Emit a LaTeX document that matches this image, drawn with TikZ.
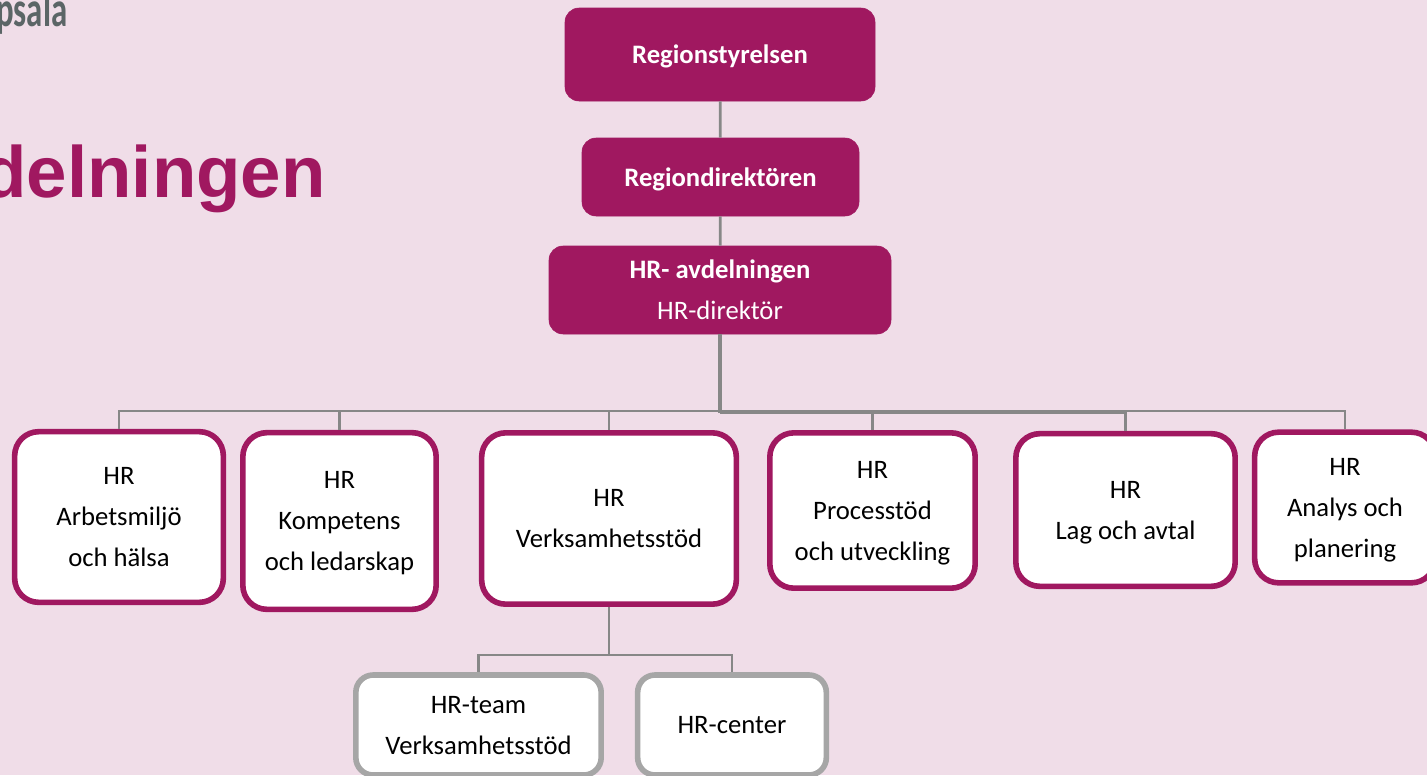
\documentclass[tikz,border=0pt]{standalone}
\usepackage{fontspec}
\setmainfont{Carlito}
\newfontfamily\rubrik{Liberation Sans}
\definecolor{bakgrund}{HTML}{F0DDE8}
\definecolor{lila}{HTML}{A01860}
\definecolor{linje}{HTML}{878787}
\definecolor{ram}{HTML}{A6A6A6}
\definecolor{logga}{HTML}{5B6566}
\tikzset{
  ledning/.style={draw=lila,fill=lila,rounded corners=10.5pt,text=white,inner sep=0pt,text depth=0pt,font=\fontsize{20}{30.75}\selectfont},
  enhet/.style={draw=lila,line width=4.2pt,fill=white,rounded corners=18pt,inner sep=0pt,text depth=0pt,align=center,text=black,font=\fontsize{20}{30.75}\selectfont},
  team/.style={enhet,draw=ram,rounded corners=13pt},
  koppling/.style={draw=linje,line width=2.1pt}
}
\begin{document}
\begin{tikzpicture}[x=0.75pt,y=0.75pt,yscale=-1,xscale=1]
  \clip (0,0) rectangle (1427,775);
  \fill[bakgrund] (0,0) rectangle (1427,775);
  \node [anchor=base east,inner sep=0pt,text=logga,font=\fontsize{30}{30}\selectfont\bfseries] (logo) at (67.5,26) {\scalebox{0.82}[1.25]{psala}};
  \node [anchor=base east,inner sep=0pt,text=lila,font=\rubrik\fontsize{54.5}{60}\selectfont\bfseries] (titel) at (326,197) {delningen};
  % ledning
  \node [ledning,minimum width=232.5pt,minimum height=69.75pt] (styrelsen) at (720,54.5) {\textbf{Regionstyrelsen}};
  \node [ledning,minimum width=207.75pt,minimum height=58.5pt] (direktoren) at (720.5,177) {\textbf{Regiondirektören}};
  \node [ledning,minimum width=256.5pt,minimum height=66pt,align=center] (avdelningen) at (720,290) {\textbf{HR- avdelningen}\\HR-direktör};
  % enheter
  \node [enhet,minimum width=156.5pt,minimum height=128pt] (arbetsmiljo) at (119,517) {HR\\Arbetsmiljö\\och hälsa};
  \node [enhet,minimum width=145pt,minimum height=132.5pt] (kompetens) at (339.5,521) {HR\\Kompetens\\och ledarskap};
  \node [enhet,minimum width=191pt,minimum height=128.5pt] (verksamhet) at (609,518.5) {HR\\Verksamhetsstöd};
  \node [enhet,minimum width=154pt,minimum height=116.5pt] (process) at (872.5,510.5) {HR\\Processtöd\\och utveckling};
  \node [enhet,minimum width=164.5pt,minimum height=114.5pt] (lag) at (1125.5,510) {HR\\Lag och avtal};
  \node [enhet,minimum width=135.5pt,minimum height=113pt] (analys) at (1345,507.5) {HR\\Analys och\\planering};
  % team
  \node [team,minimum width=184pt,minimum height=75pt] (hrteam) at (478.5,725) {HR-team\\Verksamhetsstöd};
  \node [team,minimum width=141.5pt,minimum height=75pt] (hrcenter) at (732,725) {HR-center};
  % kopplingar
  \coordinate (busa) at (720,411);
  \coordinate (busb) at (720,412.5);
  \coordinate (busc) at (609,655);
  \draw [koppling] (styrelsen) -- (direktoren);
  \draw [koppling] (direktoren) -- (avdelningen);
  \draw [koppling,line width=2.4pt] (avdelningen.south) -- (busb);
  \foreach \n in {arbetsmiljo,kompetens,verksamhet,analys}
    \draw [koppling] (busa) -| (\n.north);
  \foreach \n in {process,lag}
    \draw [koppling] (busb) -| (\n.north);
  \draw [koppling] (verksamhet.south) -- (busc);
  \foreach \n in {hrteam,hrcenter}
    \draw [koppling] (busc) -| (\n.north);
\end{tikzpicture}
\end{document}
